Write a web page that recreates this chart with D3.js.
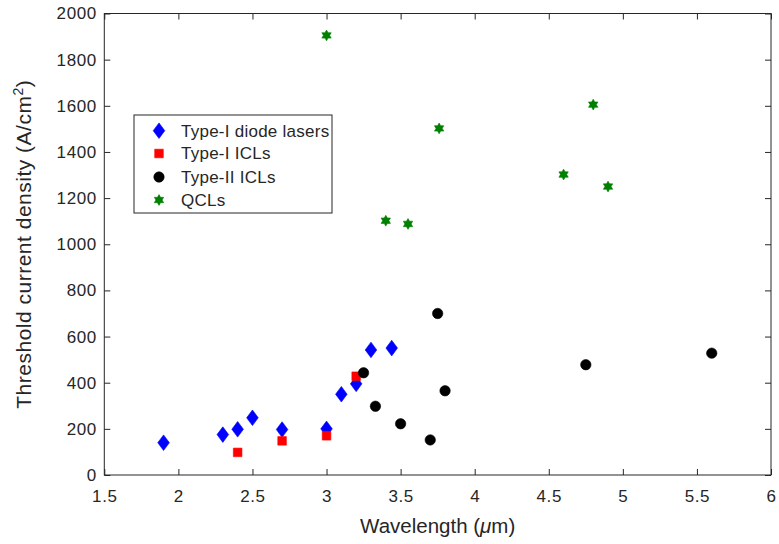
<!DOCTYPE html>
<html><head><meta charset="utf-8">
<script src="https://cdn.jsdelivr.net/npm/d3@7"></script>
<style>
body{margin:0;background:#fff;}
text{font-family:"Liberation Sans",Arial,Helvetica,sans-serif;}
</style></head>
<body><svg id="c" width="779" height="544"></svg>
<script>
const xTicks=[1.5,2,2.5,3,3.5,4,4.5,5,5.5,6];
const yTicks=[0,200,400,600,800,1000,1200,1400,1600,1800,2000];
const seriesNames=["Type-I diode lasers","Type-I ICLs","Type-II ICLs","QCLs"];
const typeIDiodeX=[1.9,2.3,2.4,2.5,2.7,3.0,3.1,3.2,3.3,3.44];
const typeIDiodeY=[140,175,198,248,197,200,350,395,542,550];
const typeIICLX=[2.4,2.7,3.0,3.2];
const typeIICLY=[98,148,170,428];
const typeIIICLX=[3.25,3.33,3.5,3.7,3.75,3.8,4.75,5.6];
const typeIIICLY=[443,298,222,152,700,365,478,528];
const qclX=[3.0,3.4,3.55,3.76,4.6,4.8,4.9];
const qclY=[1905,1102,1088,1502,1302,1605,1250];

const svg=d3.select("#c");
const L=104.3,R=771,T=13.5,B=475;
const x=d3.scaleLinear().domain([1.5,6]).range([L,R]);
const y=d3.scaleLinear().domain([0,2000]).range([B,T]);
const axCol="#262626";

svg.append("rect").attr("x",L).attr("y",T).attr("width",R-L).attr("height",B-T)
  .attr("fill","none").attr("stroke",axCol).attr("stroke-width",1);

function styleAxis(g){g.select(".domain").remove();g.selectAll("line").attr("stroke",axCol);
  g.selectAll("text").attr("fill",axCol).style("font-size","17px").style("letter-spacing","0.6px");}
svg.append("g").attr("transform",`translate(0,${B})`)
  .call(d3.axisBottom(x).tickValues(xTicks).tickFormat(d3.format("")).tickSize(-6).tickPadding(15)).call(styleAxis);
svg.append("g").attr("transform",`translate(0,${T})`)
  .call(d3.axisTop(x).tickValues(xTicks).tickFormat("").tickSize(-6)).call(styleAxis);
svg.append("g").attr("transform",`translate(${L},0)`)
  .call(d3.axisLeft(y).tickValues(yTicks).tickFormat(d3.format("")).tickSize(-6).tickPadding(7.5)).call(styleAxis);
svg.append("g").attr("transform",`translate(${R},0)`)
  .call(d3.axisRight(y).tickValues(yTicks).tickFormat("").tickSize(-6)).call(styleAxis);

svg.append("text").attr("x",(L+R)/2).attr("y",533).attr("text-anchor","middle")
  .attr("fill",axCol).style("font-size","20.5px")
  .html('Wavelength (<tspan font-style="italic">μ</tspan>m)');
svg.append("text").attr("transform",`translate(31,${(T+B)/2}) rotate(-90)`).attr("text-anchor","middle")
  .attr("fill",axCol).style("font-size","21px").style("letter-spacing","0.5px")
  .html('Threshold current density (A/cm<tspan dy="-8" font-size="14px">2</tspan><tspan dy="8">)</tspan>');

const diamond={draw(ctx,s){const w=5.8,h=7.8;ctx.moveTo(0,-h);ctx.lineTo(w,0);ctx.lineTo(0,h);ctx.lineTo(-w,0);ctx.closePath();}};
const square={draw(ctx,s){const a=4.3;ctx.moveTo(-a,-a);ctx.lineTo(a,-a);ctx.lineTo(a,a);ctx.lineTo(-a,a);ctx.closePath();}};
const circle={draw(ctx,s){const r=5.2;ctx.moveTo(r,0);ctx.arc(0,0,r,0,2*Math.PI);}};
const hexagram={draw(ctx,s){const ro=5.4,ri=ro/Math.sqrt(3);
  for(let i=0;i<12;i++){const a=-Math.PI/2+i*Math.PI/6;const r=i%2===0?ro:ri;
    const px=r*Math.cos(a),py=r*Math.sin(a);if(i===0)ctx.moveTo(px,py);else ctx.lineTo(px,py);}ctx.closePath();}};

const series=[
  {xs:typeIDiodeX,ys:typeIDiodeY,sym:diamond,col:"#0000ff"},
  {xs:typeIICLX,ys:typeIICLY,sym:square,col:"#ff0000"},
  {xs:typeIIICLX,ys:typeIIICLY,sym:circle,col:"#000000"},
  {xs:qclX,ys:qclY,sym:hexagram,col:"#008000"}
];
series.forEach(s=>{
  svg.append("g").selectAll("path").data(s.xs.map((v,i)=>[v,s.ys[i]])).join("path")
    .attr("d",d3.symbol().type(s.sym)).attr("transform",d=>`translate(${x(d[0])},${y(d[1])})`)
    .attr("fill",s.col).attr("stroke",s.col).attr("stroke-width",0.6);
});

const lg=svg.append("g");
lg.append("rect").attr("x",134).attr("y",115).attr("width",198).attr("height",98)
  .attr("fill","#fff").attr("stroke",axCol).attr("stroke-width",1);
const ly=[130.7,153.5,177,200];
series.forEach((s,i)=>{
  lg.append("path").attr("d",d3.symbol().type(s.sym)).attr("transform",`translate(159,${ly[i]})`)
    .attr("fill",s.col).attr("stroke",s.col).attr("stroke-width",0.6);
  lg.append("text").attr("x",181).attr("y",ly[i]).attr("dy","0.35em").attr("fill",axCol)
    .style("font-size","17px").style("letter-spacing","0.25px").text(seriesNames[i]);
});
</script></body></html>
